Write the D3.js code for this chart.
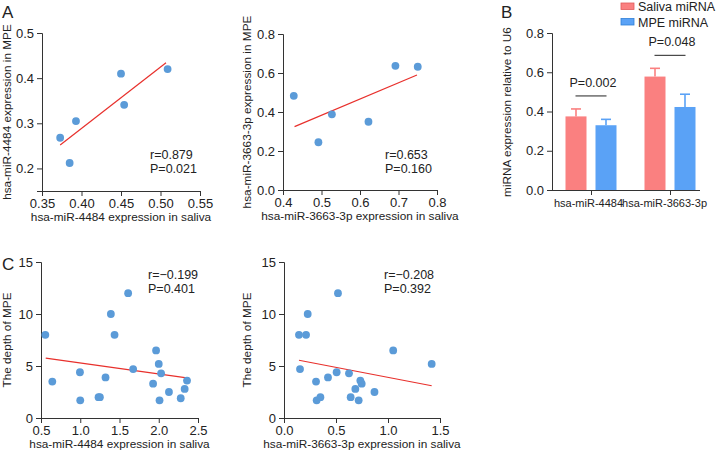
<!DOCTYPE html>
<html>
<head>
<meta charset="utf-8">
<script src="https://cdn.jsdelivr.net/npm/d3@7"></script>
<style>
  body { margin: 0; background: #fff; }
  svg text { font-family: "Liberation Sans", Arial, sans-serif; fill: #222; }
</style>
</head>
<body>
<svg width="720" height="454"></svg>
<script>
// panel A1: miR-4484 saliva vs MPE
var a1Saliva = [0.373, 0.385, 0.393, 0.450, 0.454, 0.509];
var a1MPE = [0.268, 0.212, 0.305, 0.410, 0.341, 0.420];
var a1Fit = [[0.373, 0.252], [0.507, 0.434]];
var a1Stats = ["r=0.879", "P=0.021"];

// panel A2: miR-3663-3p saliva vs MPE
var a2Saliva = [0.428, 0.492, 0.527, 0.622, 0.692, 0.750];
var a2MPE = [0.483, 0.245, 0.388, 0.350, 0.637, 0.632];
var a2Fit = [[0.430, 0.325], [0.748, 0.590]];
var a2Stats = ["r=0.653", "P=0.160"];

// panel B: bars
var groups = ["hsa-miR-4484", "hsa-miR-3663-3p"];
var series = ["Saliva miRNA", "MPE miRNA"];
var salivaMean = [0.375, 0.578];
var salivaErr = [0.038, 0.042];
var mpeMean = [0.330, 0.423];
var mpeErr = [0.030, 0.065];
var groupP = ["P=0.002", "P=0.048"];

// panel C1: miR-4484 saliva vs depth
var c1Saliva = [0.555, 0.644, 0.996, 1.00, 1.233, 1.25, 1.322, 1.39, 1.437, 1.61, 1.674, 1.966, 1.928, 2.00, 2.03, 2.01, 2.13, 2.28, 2.33, 2.36];
var c1Depth = [8.0, 3.5, 4.4, 1.7, 2.0, 2.0, 3.9, 10.0, 8.0, 12.0, 4.7, 6.5, 3.3, 5.2, 4.3, 1.7, 2.5, 1.9, 2.8, 3.6];
var c1Fit = [[0.56, 5.75], [2.38, 3.83]];
var c1Stats = ["r=\u22120.199", "P=0.401"];

// panel C2: miR-3663-3p saliva vs depth
var c2Saliva = [0.144, 0.154, 0.212, 0.228, 0.308, 0.314, 0.35, 0.423, 0.506, 0.519, 0.625, 0.641, 0.686, 0.718, 0.734, 0.747, 0.87, 1.05, 1.42];
var c2Depth = [8.0, 4.7, 8.0, 10.0, 3.5, 1.7, 2.0, 3.9, 4.4, 12.0, 4.3, 2.0, 2.8, 1.7, 3.6, 3.3, 2.5, 6.5, 5.2];
var c2Fit = [[0.144, 5.55], [1.42, 3.10]];
var c2Stats = ["r=\u22120.208", "P=0.392"];

var svg = d3.select("svg");
var dotColor = "#5b9bd8";
var fitColor = "#e8302c";
var axisColor = "#333";

function styleAxis(g) {
  g.selectAll("path, line").attr("stroke", axisColor);
  g.selectAll("text").attr("font-size", 13).attr("fill", "#222")
    .style("font-family", "'Liberation Sans', Arial, sans-serif");
}

//scatter panel with fit line and r/P text
function scatter(opt) {
  var x = d3.scaleLinear().domain(opt.xDomain).range([opt.left, opt.right]);
  var y = d3.scaleLinear().domain(opt.yDomain).range([opt.bottom, opt.top]);

  svg.append("g")
    .attr("transform", "translate(0," + opt.bottom + ")")
    .call(d3.axisBottom(x).tickValues(opt.xTicks).tickFormat(d3.format(opt.xFmt)).tickSizeOuter(0).tickSize(5))
    .call(styleAxis);

  svg.append("g")
    .attr("transform", "translate(" + opt.left + ",0)")
    .call(d3.axisLeft(y).tickValues(opt.yTicks).tickFormat(d3.format(opt.yFmt)).tickSizeOuter(0).tickSize(5))
    .call(styleAxis);

  var line = d3.line()
    .x(function(d) { return x(d[0]); })
    .y(function(d) { return y(d[1]); });

  svg.append("path")
    .datum(opt.fit)
    .attr("fill", "none")
    .attr("stroke", fitColor)
    .attr("stroke-width", 1.2)
    .attr("d", line);

  svg.append("g").selectAll("circle")
    .data(opt.xs)
    .enter().append("circle")
    .attr("cx", function(d) { return x(d); })
    .attr("cy", function(d, i) { return y(opt.ys[i]); })
    .attr("r", 3.9)
    .attr("fill", dotColor);

  svg.append("g").selectAll("text")
    .data(opt.stats)
    .enter().append("text")
    .attr("x", opt.statX)
    .attr("y", function(d, i) { return opt.statY + i * 14; })
    .attr("font-size", 12.5)
    .text(function(d) { return d; });

  svg.append("text")
    .attr("x", (opt.left + opt.right) / 2)
    .attr("y", opt.bottom + 30)
    .attr("text-anchor", "middle")
    .attr("font-size", 11.8)
    .text(opt.xTitle);

  svg.append("text")
    .attr("transform", "translate(" + opt.yTitleX + "," + opt.yTitleY + ") rotate(-90)")
    .attr("text-anchor", "middle")
    .attr("font-size", 11.8)
    .text(opt.yTitle);
}

scatter({
  xs: a1Saliva, ys: a1MPE, fit: a1Fit, stats: a1Stats,
  xDomain: [0.35, 0.55], yDomain: [0.15, 0.5],
  xTicks: [0.35, 0.40, 0.45, 0.50, 0.55], yTicks: [0.2, 0.3, 0.4, 0.5],
  xFmt: ".2f", yFmt: ".1f",
  left: 42, right: 200, top: 33, bottom: 191,
  statX: 150, statY: 159,
  xTitle: "hsa-miR-4484 expression in saliva",
  yTitle: "hsa-miR-4484 expression in MPE", yTitleX: 11, yTitleY: 112
});

scatter({
  xs: a2Saliva, ys: a2MPE, fit: a2Fit, stats: a2Stats,
  xDomain: [0.4, 0.8], yDomain: [0, 0.8],
  xTicks: [0.4, 0.5, 0.6, 0.7, 0.8], yTicks: [0, 0.2, 0.4, 0.6, 0.8],
  xFmt: ".1f", yFmt: ".1f",
  left: 283, right: 437, top: 34, bottom: 190,
  statX: 385, statY: 159,
  xTitle: "hsa-miR-3663-3p expression in saliva",
  yTitle: "hsa-miR-3663-3p expression in MPE", yTitleX: 251, yTitleY: 112
});

scatter({
  xs: c1Saliva, ys: c1Depth, fit: c1Fit, stats: c1Stats,
  xDomain: [0.5, 2.5], yDomain: [0, 15],
  xTicks: [0.5, 1.0, 1.5, 2.0, 2.5], yTicks: [0, 5, 10, 15],
  xFmt: ".1f", yFmt: "d",
  left: 41, right: 198, top: 262, bottom: 418,
  statX: 148, statY: 279,
  xTitle: "hsa-miR-4484 expression in saliva",
  yTitle: "The depth of MPE", yTitleX: 11, yTitleY: 340
});

scatter({
  xs: c2Saliva, ys: c2Depth, fit: c2Fit, stats: c2Stats,
  xDomain: [0, 1.5], yDomain: [0, 15],
  xTicks: [0, 0.5, 1.0, 1.5], yTicks: [0, 5, 10, 15],
  xFmt: ".1f", yFmt: "d",
  left: 284, right: 440, top: 262, bottom: 418,
  statX: 384, statY: 279,
  xTitle: "hsa-miR-3663-3p expression in saliva",
  yTitle: "The depth of MPE", yTitleX: 251, yTitleY: 340
});

// panel B bar chart
var barColors = ["#fa8080", "#5aa2f6"];
var barStroke = ["#e05a5a", "#2f7fd8"];
var means = [salivaMean, mpeMean];
var errs = [salivaErr, mpeErr];

var bLeft = 552, bRight = 700, bTop = 33, bBottom = 190;
var yB = d3.scaleLinear().domain([0, 0.8]).range([bBottom, bTop]);
var x0 = d3.scalePoint().domain(groups).range([591, 670]);
var x1 = d3.scaleBand().domain(series).range([-25.5, 25.5]).paddingInner(0.3);

svg.append("g")
  .attr("transform", "translate(" + bLeft + ",0)")
  .call(d3.axisLeft(yB).tickValues([0, 0.2, 0.4, 0.6, 0.8]).tickFormat(d3.format(".1f")).tickSizeOuter(0).tickSize(5))
  .call(styleAxis);

var xAxisB = svg.append("g")
  .attr("transform", "translate(0," + bBottom + ")")
  .call(d3.axisBottom(x0).tickSize(5).tickPadding(4))
  .call(styleAxis);
xAxisB.select(".domain").attr("d", "M" + bLeft + ",0.5H" + bRight);
// labels are wider than the group spacing, squeeze them
xAxisB.selectAll(".tick text")
  .attr("font-size", 11)
  .attr("dx", function(d, i) { return i === 0 ? -3 : -6; });

var barData = [];
groups.forEach(function(g, gi) {
  series.forEach(function(s, si) {
    barData.push({ group: g, series: s, si: si, mean: means[si][gi], err: errs[si][gi] });
  });
});

var bars = svg.append("g").selectAll("g")
  .data(barData)
  .enter().append("g")
  .attr("transform", function(d) { return "translate(" + (x0(d.group) + x1(d.series)) + ",0)"; });

bars.append("line")
  .attr("x1", x1.bandwidth() / 2)
  .attr("x2", x1.bandwidth() / 2)
  .attr("y1", function(d) { return yB(d.mean); })
  .attr("y2", function(d) { return yB(d.mean + d.err); })
  .attr("stroke", function(d) { return barColors[d.si]; })
  .attr("stroke-width", 1.6);

bars.append("line")
  .attr("x1", x1.bandwidth() / 2 - 5)
  .attr("x2", x1.bandwidth() / 2 + 5)
  .attr("y1", function(d) { return yB(d.mean + d.err); })
  .attr("y2", function(d) { return yB(d.mean + d.err); })
  .attr("stroke", function(d) { return barColors[d.si]; })
  .attr("stroke-width", 1.6);

bars.append("rect")
  .attr("x", 0)
  .attr("width", x1.bandwidth())
  .attr("y", function(d) { return yB(d.mean); })
  .attr("height", function(d) { return bBottom - yB(d.mean); })
  .attr("fill", function(d) { return barColors[d.si]; });

// significance brackets
groups.forEach(function(g, gi) {
  var top = d3.max(series, function(s, si) { return means[si][gi] + errs[si][gi]; });
  var ly = yB(top) - 13;
  svg.append("line")
    .attr("x1", x0(g) - 15.5).attr("x2", x0(g) + 15.5)
    .attr("y1", ly).attr("y2", ly)
    .attr("stroke", "#222").attr("stroke-width", 1);
  svg.append("text")
    .attr("x", x0(g) + 2)
    .attr("y", ly - 9)
    .attr("text-anchor", "middle")
    .attr("font-size", 12.5)
    .text(groupP[gi]);
});

// legend
var legend = svg.append("g").selectAll("g")
  .data(series)
  .enter().append("g")
  .attr("transform", function(d, i) { return "translate(621," + (3 + i * 15.5) + ")"; });
legend.append("rect")
  .attr("width", 13).attr("height", 6.5)
  .attr("fill", function(d, i) { return barColors[i]; })
  .attr("stroke", function(d, i) { return barStroke[i]; })
  .attr("stroke-width", 0.8);
legend.append("text")
  .attr("x", 17).attr("y", 8)
  .attr("font-size", 12.5)
  .text(function(d) { return d; });

svg.append("text")
  .attr("transform", "translate(511,112) rotate(-90)")
  .attr("text-anchor", "middle")
  .attr("font-size", 11.8)
  .text("miRNA expression relative to U6");

// panel letters
var letters = [["A", 2, 18], ["B", 501, 18], ["C", 2, 270]];
svg.selectAll(".letter")
  .data(letters)
  .enter().append("text")
  .attr("class", "letter")
  .attr("x", function(d) { return d[1]; })
  .attr("y", function(d) { return d[2]; })
  .attr("font-size", 17)
  .text(function(d) { return d[0]; });
</script>
</body>
</html>
